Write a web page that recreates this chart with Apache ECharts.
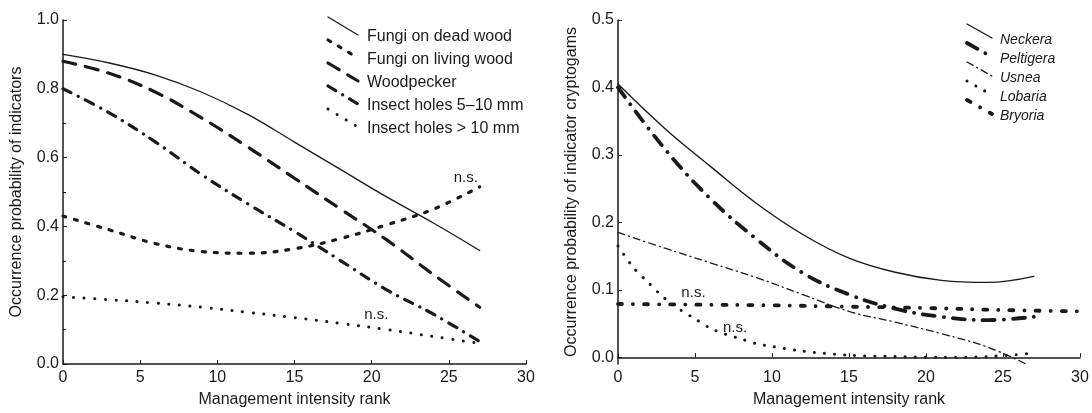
<!DOCTYPE html>
<html>
<head>
<meta charset="utf-8">
<script src="https://cdn.jsdelivr.net/npm/echarts@6/dist/echarts.min.js"></script>
<style>
    html, body { margin: 0; padding: 0; background: #fff; }
    #chart { width: 1092px; height: 413px; }
</style>
</head>
<body>
<div id="chart"></div>
<script>
const INK = '#1a1a1a';
const FONT = '"Liberation Sans", Arial, sans-serif';

// management intensity rank (x) sample positions
const rankSteps = [0, 3, 6, 9, 12, 15, 18, 21, 24, 27];

// left panel: indicators
const fungiDeadWood = [0.90, 0.875, 0.84, 0.79, 0.725, 0.645, 0.565, 0.485, 0.41, 0.33];
const fungiLivingWood = [0.43, 0.39, 0.35, 0.327, 0.322, 0.335, 0.365, 0.405, 0.45, 0.515];
const woodpecker = [0.88, 0.845, 0.79, 0.715, 0.63, 0.54, 0.45, 0.36, 0.26, 0.165];
const insectHolesSmall = [0.80, 0.73, 0.645, 0.55, 0.465, 0.385, 0.30, 0.215, 0.145, 0.065];
const insectHolesLarge = [0.195, 0.187, 0.177, 0.165, 0.15, 0.135, 0.118, 0.10, 0.08, 0.06];

// right panel: cryptogams
const neckera = [0.405, 0.34, 0.283, 0.228, 0.182, 0.147, 0.126, 0.114, 0.111, 0.12];
const peltigera = [0.40, 0.31, 0.235, 0.175, 0.125, 0.093, 0.072, 0.06, 0.055, 0.06];
const usneaRank = [0, 3, 6, 9, 12, 15, 18, 21, 24, 26.5];
const usnea = [0.185, 0.162, 0.14, 0.118, 0.093, 0.068, 0.052, 0.035, 0.015, -0.01];
const lobariaRank = [0, 1, 2, 3, 4, 5, 6, 7, 8, 9, 10, 12, 15, 18, 21, 24, 27];
const lobaria = [0.165, 0.133, 0.11, 0.088, 0.071, 0.057, 0.043, 0.034, 0.027, 0.02, 0.016, 0.009, 0.003, 0.001, 0.0, 0.001, 0.006];
const bryoriaRank = [0, 5, 10, 15, 20, 25, 30];
const bryoria = [0.079, 0.078, 0.077, 0.075, 0.073, 0.07, 0.068];

const cryptoTicks = [0, 0.1, 0.2, 0.3, 0.4, 0.5];

const leftNames = ['Fungi on dead wood', 'Fungi on living wood', 'Woodpecker', 'Insect holes 5–10 mm', 'Insect holes > 10 mm'];
const rightNames = ['Neckera', 'Peltigera', 'Usnea', 'Lobaria', 'Bryoria'];

const leftStyles = [
    { width: 1.3, dash: null },
    { width: 3.2, dash: [3, 9] },
    { width: 3.2, dash: [13, 10] },
    { width: 3.2, dash: [9, 8, 0.1, 8] },
    { width: 3, dash: [0.1, 10.5] }
];
const rightStyles = [
    { width: 1.4, dash: null },
    { width: 3.8, dash: [12, 9, 0.1, 9] },
    { width: 1.3, dash: [7, 4, 1.2, 4] },
    { width: 3, dash: [0.1, 10] },
    { width: 3.8, dash: [4, 11, 0.1, 11] }
];

function pairs(xs, ys) {
    return xs.map((x, i) => [x, ys[i]]);
}

function lineSeries(name, data, style, axisIndex, extra) {
    return Object.assign({
        name,
        type: 'line',
        xAxisIndex: axisIndex,
        yAxisIndex: axisIndex,
        data,
        smooth: 0.4,
        showSymbol: false,
        silent: true,
        lineStyle: {
            color: INK,
            width: style.width,
            type: style.dash || 'solid',
            cap: 'round'
        }
    }, extra || {});
}

function nsMark(x, y) {
    return {
        symbol: 'circle',
        symbolSize: 0,
        silent: true,
        label: { show: true, formatter: 'n.s.', position: 'inside', color: INK, fontSize: 15, fontFamily: FONT },
        data: [{ coord: [x, y] }]
    };
}

function legendGraphics(names, styles, opts) {
    const out = [];
    names.forEach((name, i) => {
        const y = opts.top + i * opts.step;
        const st = styles[i];
        out.push({
            type: 'line',
            silent: true,
            shape: { x1: opts.iconX, y1: y - opts.iconH, x2: opts.iconX + opts.iconW, y2: y - 2 },
            style: { stroke: INK, lineWidth: st.width, lineDash: st.dash, lineCap: 'round' }
        });
        out.push({
            type: 'text',
            silent: true,
            x: opts.textX,
            y,
            style: {
                text: name,
                fill: INK,
                font: `${opts.italic ? 'italic ' : ''}${opts.size}px ${FONT}`,
                textVerticalAlign: 'middle'
            }
        });
    });
    return out;
}

function xAxisFor(gridIndex) {
    return {
        type: 'value',
        gridIndex,
        min: 0,
        max: 30,
        interval: 5,
        name: 'Management intensity rank',
        nameLocation: 'middle',
        nameGap: 28,
        nameTextStyle: { color: INK, fontSize: 16, fontFamily: FONT },
        axisLine: { lineStyle: { color: INK, width: 1.5 } },
        axisTick: { inside: true, length: 4, lineStyle: { color: INK } },
        axisLabel: { color: INK, fontSize: 16, fontFamily: FONT, margin: 6 },
        splitLine: { show: false }
    };
}

const chart = echarts.init(document.getElementById('chart'));
chart.setOption({
    animation: false,
    backgroundColor: '#fff',
    grid: [
        { left: 63, right: 566, top: 20, bottom: 46 },
        { left: 618, right: 12, top: 20, bottom: 46 }
    ],
    xAxis: [xAxisFor(0), xAxisFor(1)],
    yAxis: [
        {
            type: 'value',
            gridIndex: 0,
            min: 0,
            max: 1,
            interval: 0.2,
            name: 'Occurrence probability of indicators',
            nameLocation: 'middle',
            nameGap: 38,
            nameTextStyle: { color: INK, fontSize: 16, fontFamily: FONT },
            axisLine: { show: true, lineStyle: { color: INK, width: 1.5 } },
            axisTick: { show: true, inside: true, length: 4, lineStyle: { color: INK } },
            minorTick: { show: true, splitNumber: 2, length: 3, lineStyle: { color: INK } },
            axisLabel: { color: INK, fontSize: 16, fontFamily: FONT, margin: 4, formatter: v => v.toFixed(1) },
            splitLine: { show: false }
        },
        {
            type: 'value',
            gridIndex: 1,
            min: -0.01,
            max: 0.5,
            name: 'Occurrence probability of indicator cryptogams',
            nameLocation: 'middle',
            nameGap: 38,
            nameTextStyle: { color: INK, fontSize: 16, fontFamily: FONT },
            axisLine: { show: true, lineStyle: { color: INK, width: 1.5 } },
            axisTick: { show: true, inside: true, length: 4, customValues: cryptoTicks, lineStyle: { color: INK } },
            axisLabel: { color: INK, fontSize: 16, fontFamily: FONT, margin: 4, customValues: cryptoTicks, formatter: v => v.toFixed(1) },
            splitLine: { show: false }
        }
    ],
    graphic: [
        ...legendGraphics(leftNames, leftStyles, { top: 37, step: 23, iconX: 328, iconW: 30, iconH: 20, textX: 367, size: 16 }),
        ...legendGraphics(rightNames, rightStyles, { top: 40, step: 19, iconX: 967, iconW: 25, iconH: 16, textX: 1000, size: 14, italic: true })
    ],
    series: [
        lineSeries(leftNames[0], pairs(rankSteps, fungiDeadWood), leftStyles[0], 0),
        lineSeries(leftNames[1], pairs(rankSteps, fungiLivingWood), leftStyles[1], 0, { markPoint: nsMark(26.1, 0.54) }),
        lineSeries(leftNames[2], pairs(rankSteps, woodpecker), leftStyles[2], 0),
        lineSeries(leftNames[3], pairs(rankSteps, insectHolesSmall), leftStyles[3], 0),
        lineSeries(leftNames[4], pairs(rankSteps, insectHolesLarge), leftStyles[4], 0, { markPoint: nsMark(20.3, 0.144) }),
        lineSeries(rightNames[0], pairs(rankSteps, neckera), rightStyles[0], 1),
        lineSeries(rightNames[1], pairs(rankSteps, peltigera), rightStyles[1], 1),
        lineSeries(rightNames[2], pairs(usneaRank, usnea), rightStyles[2], 1),
        lineSeries(rightNames[3], pairs(lobariaRank, lobaria), rightStyles[3], 1, { markPoint: nsMark(7.6, 0.044), smooth: 0.3 }),
        lineSeries(rightNames[4], pairs(bryoriaRank, bryoria), rightStyles[4], 1, { markPoint: nsMark(4.9, 0.096) })
    ]
});

window.addEventListener('resize', () => chart.resize());
</script>
</body>
</html>
